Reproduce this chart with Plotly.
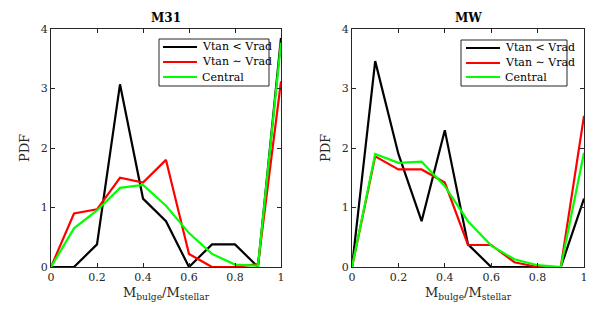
import plotly.graph_objects as go

x_vals = [0, 0.1, 0.2, 0.3, 0.4, 0.5, 0.6, 0.7, 0.8, 0.9, 1.0]

m31_black = [0, 0, 0.38, 3.07, 1.15, 0.77, 0, 0.38, 0.38, 0, 3.85]
m31_red = [0, 0.9, 0.97, 1.5, 1.42, 1.8, 0.22, 0, 0, 0.05, 3.12]
m31_green = [0, 0.65, 0.95, 1.33, 1.38, 1.03, 0.57, 0.22, 0.04, 0.02, 3.77]

mw_black = [0, 3.46, 1.9, 0.77, 2.3, 0.38, 0, 0, 0, 0, 1.15]
mw_red = [0, 1.86, 1.64, 1.64, 1.42, 0.37, 0.37, 0.08, 0, 0, 2.54]
mw_green = [0, 1.9, 1.75, 1.77, 1.36, 0.77, 0.36, 0.13, 0.03, 0, 1.92]

names = ["Vtan < Vrad", "Vtan \u223c Vrad", "Central"]
colors = ["#000000", "#ff0000", "#00ff00"]
titles = ["<b>M31</b>", "<b>MW</b>"]

FONT = "DejaVu Serif"
AX = "#262626"

# page has an 8px body margin; figure is sized to fill the rest of the window
OFF = 8
W, H = 598 - OFF, 326 - OFF


def px(x):
    return (x - OFF) / W


def py(y):
    return 1 - (y - OFF) / H


fig = go.Figure()
panels = [(m31_black, m31_red, m31_green), (mw_black, mw_red, mw_green)]
for i, series in enumerate(panels):
    xa = "x" if i == 0 else "x2"
    ya = "y" if i == 0 else "y2"
    for s, nm, c in zip(series, names, colors):
        fig.add_trace(go.Scatter(x=x_vals, y=s, mode="lines", name=nm,
                                 line=dict(color=c, width=2.2),
                                 xaxis=xa, yaxis=ya, showlegend=False))

axis_common = dict(range=[0, 1], tickvals=[0, 0.2, 0.4, 0.6, 0.8, 1],
                   ticktext=["0", "0.2", "0.4", "0.6", "0.8", "1"],
                   ticks="inside", ticklen=4, tickcolor=AX,
                   showline=True, linecolor=AX, linewidth=1, mirror="ticks",
                   showgrid=False, zeroline=False, automargin=False,
                   tickfont=dict(family=FONT, size=11, color=AX),
                   title=dict(text="M<sub>bulge</sub>/M<sub>stellar</sub>",
                              font=dict(family=FONT, size=13, color=AX), standoff=4))
yaxis_common = dict(range=[0, 4], tickvals=[0, 1, 2, 3, 4],
                    ticks="inside", ticklen=4, tickcolor=AX,
                    showline=True, linecolor=AX, linewidth=1, mirror="ticks",
                    showgrid=False, zeroline=False, automargin=False,
                    tickfont=dict(family=FONT, size=11, color=AX),
                    title=dict(text="PDF", font=dict(family=FONT, size=13, color=AX), standoff=8))

panel_x = [(51, 281), (352, 584)]
legend_box = [(159, 39, 269, 86), (461, 40, 567, 86)]
legend_line = [(163, 197, 200), (466, 500, 503)]
legend_rows = [(47, 62, 77), (48, 63, 77)]

shapes = []
annotations = []
for i in range(2):
    x0, y0, x1, y1 = legend_box[i]
    shapes.append(dict(type="rect", xref="paper", yref="paper",
                       x0=px(x0), x1=px(x1), y0=py(y1), y1=py(y0),
                       line=dict(color=AX, width=1), fillcolor="white", layer="above"))
    lx0, lx1, tx = legend_line[i]
    for nm, c, ry in zip(names, colors, legend_rows[i]):
        shapes.append(dict(type="line", xref="paper", yref="paper",
                           x0=px(lx0), x1=px(lx1), y0=py(ry), y1=py(ry),
                           line=dict(color=c, width=2.2), layer="above"))
        annotations.append(dict(text=nm, x=px(tx), y=py(ry), xref="paper", yref="paper",
                                showarrow=False, xanchor="left", yanchor="middle",
                                font=dict(family=FONT, size=11, color="#000000")))
    a, b = panel_x[i]
    annotations.append(dict(text=titles[i], x=px((a + b) / 2), y=py(18),
                            xref="paper", yref="paper", showarrow=False,
                            xanchor="center", yanchor="middle",
                            font=dict(family=FONT, size=12, color="#000000")))

fig.update_layout(
    width=W, height=H,
    margin=dict(l=0, r=0, t=0, b=0),
    paper_bgcolor="white", plot_bgcolor="white",
    showlegend=False,
    xaxis=dict(domain=[px(51), px(281)], anchor="y", **axis_common),
    yaxis=dict(domain=[py(267), py(29)], anchor="x", **yaxis_common),
    xaxis2=dict(domain=[px(352), px(584)], anchor="y2", **axis_common),
    yaxis2=dict(domain=[py(267), py(29)], anchor="x2", **yaxis_common),
    shapes=shapes,
    annotations=annotations,
)

fig.write_html("out.html")
